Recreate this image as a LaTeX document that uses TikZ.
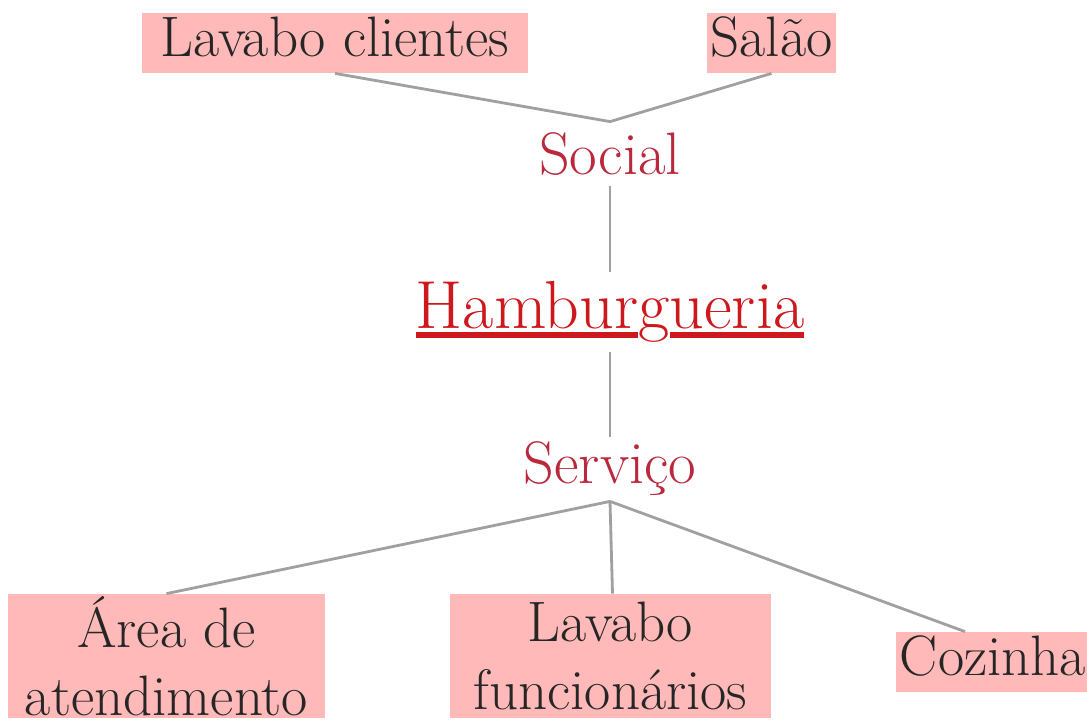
\documentclass[tikz,border=0pt]{standalone}
\usepackage{tikz}

\definecolor{leaffill}{RGB}{255,185,185}
\definecolor{branchred}{RGB}{185,40,60}
\definecolor{rootred}{RGB}{205,25,30}
\definecolor{linegray}{RGB}{160,160,160}

% thick underline for the root label
\newcommand{\rootline}[1]{\setbox0\hbox{#1}\rlap{\rule[-4.5pt]{\wd0}{3pt}}\box0}

\begin{document}
\begin{tikzpicture}[x=0.5pt, y=-0.5pt,
    root/.style = {text=rootred, font=\fontsize{34}{40}\selectfont, inner sep=0pt, minimum height=40pt},
    branch/.style = {text=branchred, font=\fontsize{30}{36}\selectfont, inner sep=0pt, minimum height=32pt},
    leaf/.style = {fill=leaffill, text=black!85, font=\fontsize{28.5}{34}\selectfont, inner sep=0pt, align=center},
    oneline/.style = {minimum height=30pt, text height=19.5pt, text depth=6pt},
    link/.style = {draw=linegray, line width=1.4pt}]
    \useasboundingbox (0,0) rectangle (1087,724);
    \node[root] (root) at (610,312) {\rootline{Hambur}g\rootline{ueria}};
    \node[branch, above of=root, node distance=79pt] (social) {Social};
    \node[branch, below of=root, node distance=78.5pt] (servico) {Serviço};
    \node[leaf, oneline, minimum width=193pt] (lavcli) at (335,43) {Lavabo clientes};
    \node[leaf, oneline, minimum width=64.5pt] (salao) at (771.5,43) {Salão};
    \node[leaf, minimum width=158.5pt, minimum height=62pt] (area) at (166.5,656) {Área de\\atendimento};
    \node[leaf, minimum width=160.5pt, minimum height=62pt] (lavfun) at (610.5,656) {Lavabo\\funcionários};
    \node[leaf, oneline, minimum width=97pt] (cozinha) at (993,662) {Cozinha};
    \draw[link] (lavcli.south) -- (social.north) -- (salao.south);
    \draw[link] (social) -- (root);
    \draw[link] (root) -- (servico);
    \draw[link] (servico.south) -- (area.north);
    \draw[link] (servico.south) -- ([xshift=1pt]lavfun.north);
    \draw[link] (servico.south) -- ([xshift=-14pt]cozinha.north);
\end{tikzpicture}
\end{document}
